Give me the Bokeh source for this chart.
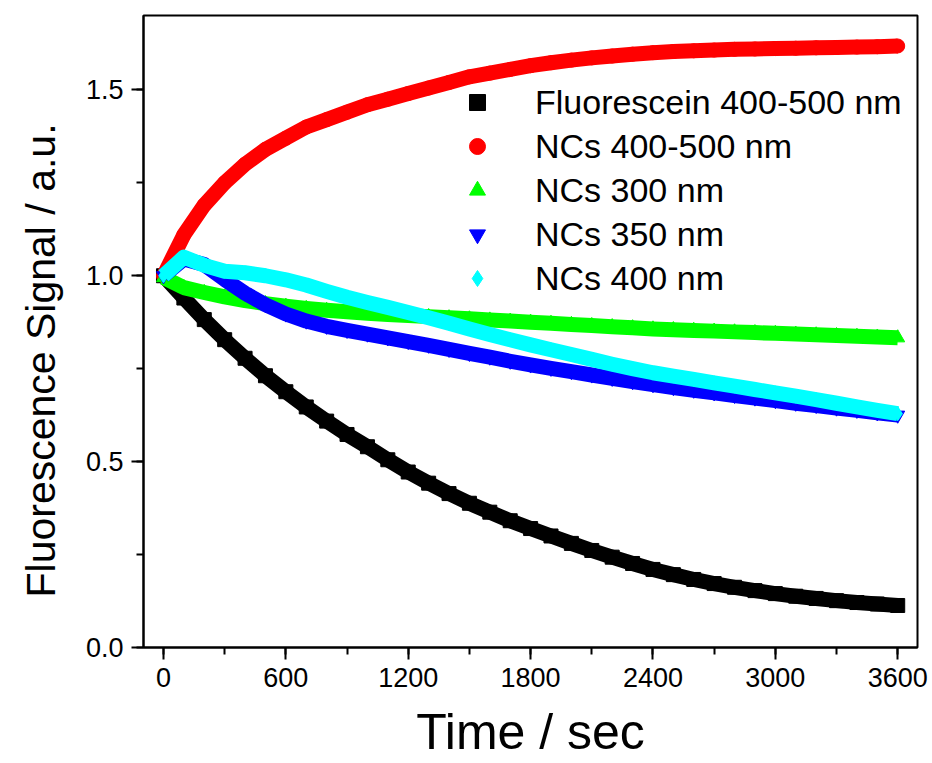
from bokeh.plotting import figure
from bokeh.models import (SingleIntervalTicker, PrintfTickFormatter, Legend,
                          LegendItem, Range1d, Title)
from bokeh.embed import file_html
from bokeh.resources import INLINE

time_s = [0, 100, 200, 300, 400, 500, 600, 700, 800, 900, 1000, 1100, 1200,
          1300, 1400, 1500, 1600, 1700, 1800, 1900, 2000, 2100, 2200, 2300,
          2400, 2500, 2600, 2700, 2800, 2900, 3000, 3100, 3200, 3300, 3400,
          3500, 3600]

fluorescein_400_500 = [1.000, 0.940, 0.882, 0.828, 0.778, 0.731, 0.688, 0.647,
                       0.609, 0.573, 0.540, 0.505, 0.472, 0.442, 0.414, 0.388,
                       0.364, 0.341, 0.320, 0.300, 0.280, 0.261, 0.243, 0.226,
                       0.210, 0.196, 0.183, 0.172, 0.162, 0.153, 0.145, 0.138,
                       0.132, 0.126, 0.121, 0.117, 0.113]

ncs_400_500 = [1.000, 1.110, 1.190, 1.250, 1.300, 1.340, 1.370, 1.400, 1.420,
               1.440, 1.460, 1.475, 1.490, 1.505, 1.520, 1.535, 1.545, 1.555,
               1.565, 1.573, 1.580, 1.586, 1.591, 1.596, 1.600, 1.603, 1.605,
               1.607, 1.609, 1.610, 1.611, 1.612, 1.613, 1.614, 1.615, 1.616,
               1.618]

ncs_300 = [0.995, 0.968, 0.955, 0.943, 0.933, 0.925, 0.918, 0.912, 0.907,
           0.903, 0.899, 0.896, 0.893, 0.890, 0.887, 0.884, 0.881, 0.878,
           0.875, 0.872, 0.869, 0.866, 0.863, 0.860, 0.857, 0.855, 0.853,
           0.851, 0.849, 0.847, 0.845, 0.843, 0.841, 0.839, 0.837, 0.835,
           0.833]

ncs_350 = [1.000, 1.045, 1.030, 0.990, 0.953, 0.922, 0.897, 0.878, 0.864,
           0.853, 0.843, 0.833, 0.823, 0.813, 0.802, 0.791, 0.781, 0.770,
           0.760, 0.751, 0.742, 0.733, 0.724, 0.715, 0.707, 0.699, 0.692,
           0.685, 0.678, 0.671, 0.664, 0.657, 0.651, 0.644, 0.638, 0.631,
           0.625]

ncs_400 = [1.000, 1.050, 1.028, 1.012, 1.008, 1.000, 0.989, 0.975, 0.958,
           0.942, 0.928, 0.915, 0.901, 0.887, 0.872, 0.857, 0.842, 0.828,
           0.814, 0.801, 0.788, 0.775, 0.762, 0.750, 0.739, 0.730, 0.721,
           0.712, 0.703, 0.694, 0.685, 0.676, 0.667, 0.657, 0.647, 0.638,
           0.629]

series_labels = ["Fluorescein 400-500 nm", "NCs 400-500 nm", "NCs 300 nm",
                 "NCs 350 nm", "NCs 400 nm"]
series_values = [fluorescein_400_500, ncs_400_500, ncs_300, ncs_350, ncs_400]
series_colors = ["#000000", "#FF0000", "#00FF00", "#0000FF", "#00FFFF"]
series_markers = ["square", "circle", "triangle", "inverted_triangle", "diamond"]

x_title = "Time / sec"
y_title = "Fluorescence Signal / a.u."

FONT = "Liberation Sans"

p = figure(width=932, height=763, output_backend="svg", toolbar_location=None,
           x_range=Range1d(-98, 3697), y_range=Range1d(0, 1.70),
           min_border_left=143, min_border_right=15, min_border_top=15,
           min_border_bottom=116)
p.xgrid.visible = False
p.ygrid.visible = False
p.outline_line_color = "black"
p.outline_line_width = 2
p.background_fill_color = "white"
p.border_fill_color = "white"

items = []
for lab, vals, col, mk in zip(series_labels, series_values, series_colors, series_markers):
    p.line(time_s, vals, line_color=col, line_width=15, line_join="round",
           line_cap="butt")
    r = p.scatter(time_s, vals, marker=mk, size=14, fill_color=col,
                  line_color=col)
    items.append(LegendItem(label=lab, renderers=[r]))

p.xaxis.ticker = SingleIntervalTicker(interval=600, num_minor_ticks=2)
p.yaxis.ticker = SingleIntervalTicker(interval=0.5, num_minor_ticks=2)
p.yaxis.formatter = PrintfTickFormatter(format="%.1f")

for ax in (p.xaxis[0], p.yaxis[0]):
    ax.axis_line_width = 2
    ax.axis_line_color = "black"
    ax.major_tick_line_width = 2
    ax.minor_tick_line_width = 2
    ax.major_tick_out = 12
    ax.major_tick_in = 0
    ax.minor_tick_out = 7
    ax.minor_tick_in = 0
    ax.major_label_text_font = FONT
    ax.major_label_text_font_size = "27px"
    ax.major_label_text_color = "black"
    ax.axis_label_text_font = FONT
    ax.axis_label_text_font_style = "normal"
    ax.axis_label_text_color = "black"

p.xaxis.axis_label = x_title
p.xaxis.axis_label_text_font_size = "50px"
p.xaxis.major_label_standoff = 8
p.xaxis.axis_label_standoff = 14
p.yaxis.major_label_standoff = 8

# vertical axis title in the left panel, outside the y axis
p.add_layout(Title(text=y_title, align="left", offset=50, standoff=34,
                   vertical_align="top",
                   text_font=FONT, text_font_size="41px",
                   text_font_style="normal", text_color="black"), "left")

legend = Legend(items=items, location=(314, 347), padding=0, margin=0,
                spacing=0, glyph_width=40, glyph_height=44, label_standoff=38,
                label_text_font=FONT, label_text_font_size="34px",
                label_text_color="black", border_line_alpha=0,
                background_fill_alpha=0)
p.add_layout(legend, "center")

open("out.html", "w").write(file_html(p, INLINE))
